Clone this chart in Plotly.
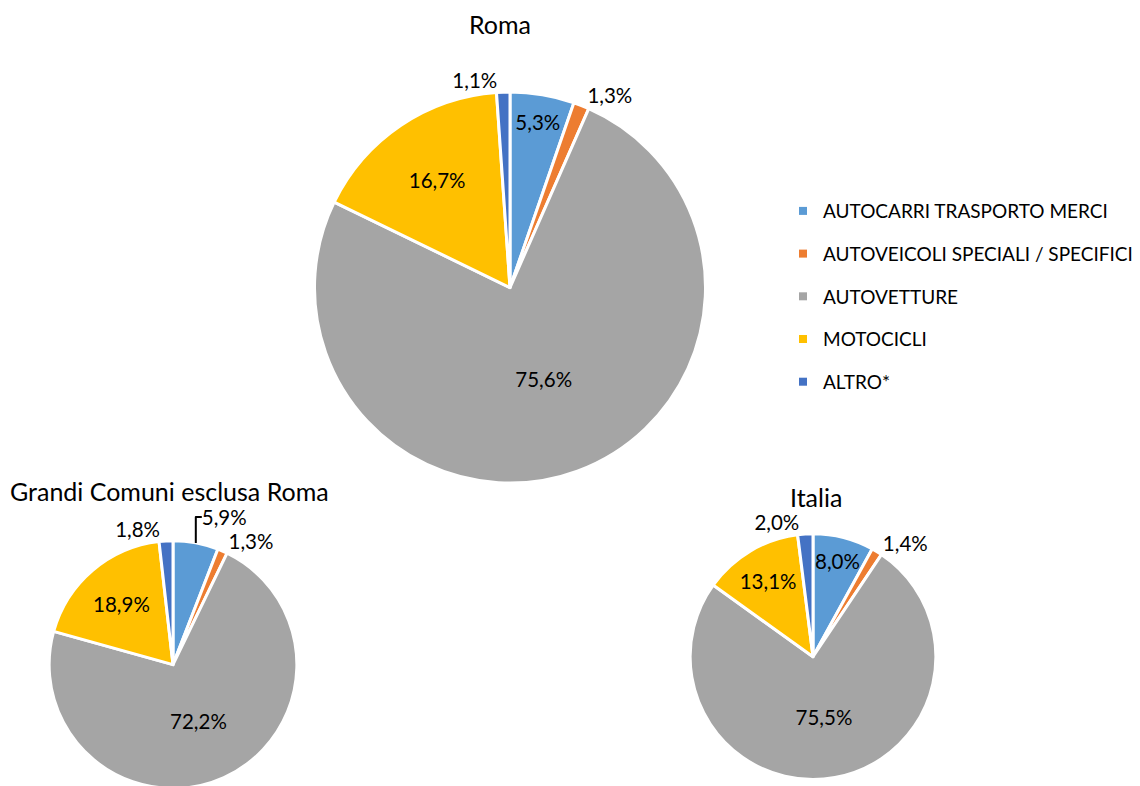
import plotly.graph_objects as go

categorie = ["AUTOCARRI TRASPORTO MERCI", "AUTOVEICOLI SPECIALI / SPECIFICI",
             "AUTOVETTURE", "MOTOCICLI", "ALTRO*"]
colori = ["#5B9BD5", "#ED7D31", "#A5A5A5", "#FFC000", "#4472C4"]

roma = [5.3, 1.3, 75.6, 16.7, 1.1]
grandi_comuni = [5.9, 1.3, 72.2, 18.9, 1.8]
italia = [8.0, 1.4, 75.5, 13.1, 2.0]

W, H = 1140, 786
OFF = 8  # margine del body nella pagina
font = "Lato, 'Open Sans', sans-serif"

def px_x(x):
    return (x - OFF) / W

def px_y(y):
    return 1 - (y - OFF) / H

def dominio(cx, cy, r):
    h = r + 1.5
    return dict(x=[px_x(cx - h), px_x(cx + h)], y=[px_y(cy + h), px_y(cy - h)])

def pie(values, dom, pos):
    return go.Pie(
        labels=categorie, values=values, sort=False,
        direction="clockwise", rotation=0,
        marker=dict(colors=colori, line=dict(color="white", width=3)),
        texttemplate="%{value:.1f}%", textposition=pos,
        insidetextorientation="horizontal",
        textfont=dict(size=20.5, color="black", family=font),
        domain=dom, showlegend=False, hoverinfo="label+value",
    )

fig = go.Figure()
fig.add_trace(pie(roma, dominio(510, 289, 195),
                  ["inside", "outside", "inside", "inside", "outside"]))
fig.add_trace(pie(grandi_comuni, dominio(173, 668, 123),
                  ["outside", "outside", "inside", "inside", "outside"]))
fig.add_trace(pie(italia, dominio(813, 660, 122),
                  ["inside", "outside", "inside", "inside", "outside"]))

# voci di legenda
for i, (c, col) in enumerate(zip(categorie, colori)):
    fig.add_trace(go.Scatter(
        x=[None], y=[None], mode="markers", name=c, legendgroup=str(i),
        marker=dict(symbol="square", size=8, color=col),
    ))

titoli = [("Roma", 500, 24), ("Grandi Comuni esclusa Roma", 169, 493),
          ("Italia", 816, 500)]
for t, x, y in titoli:
    fig.add_annotation(text=t, x=px_x(x), y=px_y(y), xref="paper", yref="paper",
                       xanchor="center", yanchor="middle", showarrow=False,
                       font=dict(size=25, color="black", family=font))

fig.update_layout(
    width=W, height=H,
    margin=dict(l=0, r=0, t=0, b=0),
    paper_bgcolor="white", plot_bgcolor="white",
    separators=",.",
    uniformtext=dict(minsize=20.5, mode="show"),
    xaxis=dict(visible=False), yaxis=dict(visible=False),
    legend=dict(x=px_x(783), y=px_y(193), xanchor="left", yanchor="top",
                font=dict(size=19, color="black", family=font),
                tracegroupgap=15, bgcolor="rgba(0,0,0,0)"),
    font=dict(family=font),
)

fig.write_html("out.html", config={"displayModeBar": False})
